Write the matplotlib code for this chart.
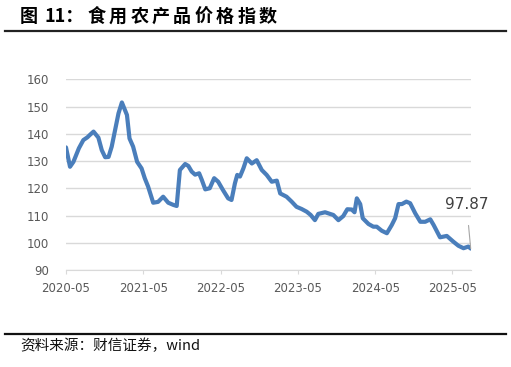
import matplotlib
matplotlib.use("Agg")
import matplotlib.pyplot as plt
import matplotlib.dates as mdates
import pandas as pd

# 食用农产品价格指数
dates = ["2020-05-01", "2020-05-20", "2020-06-05", "2020-07-01", "2020-07-22", "2020-08-10",
         "2020-08-22", "2020-09-08", "2020-10-01", "2020-10-17", "2020-11-02", "2020-11-18",
         "2020-12-03", "2020-12-19", "2021-01-04", "2021-01-20", "2021-02-13", "2021-02-25",
         "2021-03-14", "2021-04-02", "2021-04-23", "2021-05-08", "2021-05-24", "2021-06-17",
         "2021-07-10", "2021-08-03", "2021-08-27", "2021-09-20", "2021-10-06", "2021-10-21",
         "2021-11-15", "2021-11-30", "2021-12-16", "2022-01-01", "2022-01-20", "2022-02-02",
         "2022-02-18", "2022-03-11", "2022-04-01", "2022-04-20", "2022-05-13", "2022-06-06",
         "2022-06-22", "2022-07-08", "2022-07-19", "2022-08-01", "2022-08-17", "2022-09-02",
         "2022-09-26", "2022-10-19", "2022-11-12", "2022-12-05", "2022-12-29", "2023-01-22",
         "2023-02-07", "2023-03-09", "2023-04-02", "2023-04-25", "2023-05-19", "2023-06-12",
         "2023-07-01", "2023-07-21", "2023-08-06", "2023-09-07", "2023-09-30", "2023-10-16",
         "2023-11-09", "2023-12-02", "2023-12-21", "2024-01-11", "2024-01-24", "2024-02-04",
         "2024-02-20", "2024-03-03", "2024-03-30", "2024-04-22", "2024-05-08", "2024-06-01",
         "2024-06-25", "2024-07-18", "2024-08-03", "2024-08-19", "2024-09-04", "2024-09-25",
         "2024-10-13", "2024-11-06", "2024-11-30", "2024-12-23", "2025-01-16", "2025-02-01",
         "2025-03-03", "2025-04-04", "2025-05-05", "2025-05-29", "2025-06-22", "2025-07-15",
         "2025-07-26"]
values = [135.0, 127.9, 129.7, 134.7, 137.7, 138.7,
          139.6, 140.8, 138.6, 134.0, 131.4, 131.5,
          135.3, 141.4, 147.5, 151.5, 146.9, 138.3,
          135.3, 129.7, 127.3, 123.7, 120.6, 114.7,
          115.0, 116.9, 114.7, 113.9, 113.5, 126.7,
          128.9, 128.2, 126.1, 125.0, 125.5, 123.0,
          119.6, 120.0, 123.7, 122.4, 119.3, 116.3,
          115.7, 121.8, 124.9, 124.3, 127.3, 131.0,
          129.1, 130.3, 126.7, 124.9, 122.4, 122.8,
          118.1, 116.9, 115.1, 113.2, 112.4, 111.4,
          110.2, 108.3, 110.6, 111.2, 110.6, 110.2,
          108.3, 109.8, 112.3, 112.2, 111.2, 116.3,
          114.2, 109.0, 106.9, 105.9, 105.9, 104.4,
          103.5, 106.5, 109.0, 114.2, 114.2, 115.1,
          114.5, 110.8, 107.7, 107.7, 108.6, 106.5,
          102.0, 102.5, 100.4, 98.9, 98.0, 98.6,
          97.87]
x_ticks = ["2020-05", "2021-05", "2022-05", "2023-05", "2024-05", "2025-05"]
y_ticks = [90, 100, 110, 120, 130, 140, 150, 160]

W, H = 511, 367
fig = plt.figure(figsize=(W / 100, H / 100), dpi=100)
ax = fig.add_axes([66 / W, 1 - 270 / H, (470.7 - 66) / W, (270 - 79.3) / H])

d = pd.to_datetime(dates)
ax.plot(d, values, color="#4a7ebb", lw=3, solid_joinstyle="round", solid_capstyle="round", zorder=3)

ax.set_xlim(d[0], d[-1])
ax.set_ylim(90, 160)
ax.set_yticks(y_ticks)
ax.set_xticks(pd.to_datetime(x_ticks))
ax.xaxis.set_major_formatter(mdates.DateFormatter("%Y-%m"))
ax.grid(axis="y", color="#d9d9d9", lw=1)
ax.set_axisbelow(True)
for s in ["top", "right", "left"]:
    ax.spines[s].set_visible(False)
ax.spines["bottom"].set_color("#d9d9d9")
ax.tick_params(axis="y", length=0, pad=12, labelsize=8.5, labelcolor="#595959")
ax.tick_params(axis="x", length=3, color="#d9d9d9", pad=6, labelsize=8.5, labelcolor="#595959")

ax.annotate("97.87", xy=(d[-1], values[-1]), xytext=(-3, 32), textcoords="offset points",
            ha="center", va="center", fontsize=11, color="#404040",
            arrowprops=dict(arrowstyle="-", color="#a6a6a6", lw=0.8, shrinkA=8, shrinkB=0))

# title
tfont = ["Noto Sans CJK SC", "DejaVu Sans"]
fig.text(28.5 / W, 1 - 16 / H, "图", fontsize=13, fontweight="bold", family=tfont, ha="center", va="center")
fig.text(44 / W, 1 - 16 / H, "11：", fontsize=13, fontweight="bold", family=tfont, ha="left", va="center")
for i, ch in enumerate("食用农产品价格指数"):
    fig.text((96.7 + 21.35 * i) / W, 1 - 16 / H, ch, fontsize=13, fontweight="bold",
             family=tfont, ha="center", va="center")

fig.add_artist(plt.Line2D([5 / W, 506 / W], [1 - 31 / H, 1 - 31 / H], color="#222222", lw=1.6))
fig.add_artist(plt.Line2D([5 / W, 506 / W], [1 - 334 / H, 1 - 334 / H], color="#111111", lw=1.6))

fig.text(20 / W, 1 - 346 / H, "资料来源：财信证券，wind", fontsize=10.5, style="italic",
         family=tfont, ha="left", va="center", color="#111111")

fig.savefig("out.png", dpi=100)
